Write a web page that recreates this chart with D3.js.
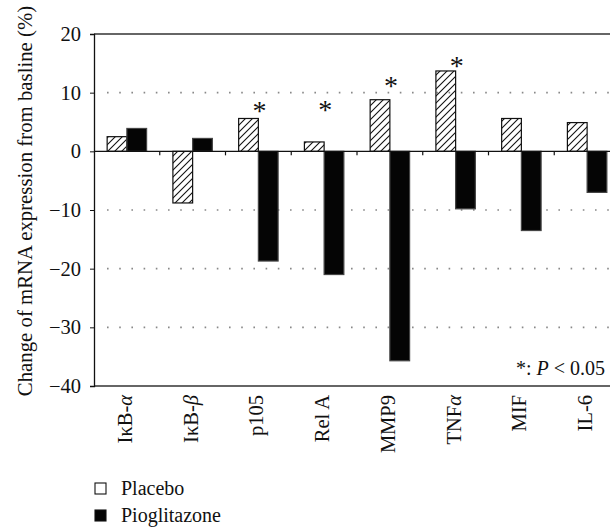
<!DOCTYPE html>
<html lang="en">
<head>
<meta charset="utf-8">
<title>mRNA expression change</title>
<script src="https://d3js.org/d3.v7.min.js"></script>
<style>
  body { margin: 0; background: #fff; }
  svg text { font-family: "Liberation Serif", "DejaVu Serif", serif; fill: #111; }
</style>
</head>
<body>
<script>
// data
var genes = ["IκB-α", "IκB-β", "p105", "Rel A", "MMP9", "TNFα", "MIF", "IL-6"];
var placebo = [2.5, -8.8, 5.6, 1.6, 8.8, 13.7, 5.6, 4.9];
var pioglitazone = [3.9, 2.2, -18.7, -21.0, -35.7, -9.8, -13.5, -7.0];
var significant = [false, false, true, true, true, true, false, false];
var starLevel = [0, 0, 7.9, 8.0, 12.2, 15.6, 0, 0];   // where the * sits (in %)
var yTicks = [20, 10, 0, -10, -20, -30, -40];
var groups = ["Placebo", "Pioglitazone"];

var W = 610, H = 527;
var plotL = 94, plotR = 620, plotT = 34, plotB = 386;
var FS = 20;

var svg = d3.select("body").append("svg")
    .attr("width", W).attr("height", H);

// hatch pattern for placebo bars
var defs = svg.append("defs");
defs.append("pattern")
    .attr("id", "hatch")
    .attr("patternUnits", "userSpaceOnUse")
    .attr("width", 7).attr("height", 7)
  .append("path")
    .attr("d", "M0,7 L7,0 M-1,1 L1,-1 M6,8 L8,6")
    .attr("stroke", "#111").attr("stroke-width", 1.1);

var x = d3.scaleBand().domain(genes).range([plotL, plotR])
    .paddingInner(0.4).paddingOuter(0.2);
var xIn = d3.scaleBand().domain(groups).range([0, x.bandwidth()]);
var y = d3.scaleLinear().domain([-40, 20]).range([plotB, plotT]);

// dotted gridlines
svg.append("g").selectAll("line")
    .data(yTicks.filter(function(d) { return d != 0 && d != 20 && d != -40; }))
    .enter().append("line")
    .attr("x1", plotL + 13).attr("x2", W)
    .attr("y1", function(d) { return y(d); })
    .attr("y2", function(d) { return y(d); })
    .attr("stroke", "#888").attr("stroke-width", 1.6)
    .attr("stroke-dasharray", "1.6,10.6");

// frame lines: top and bottom
svg.append("line").attr("x1", plotL).attr("x2", W)
    .attr("y1", y(20)).attr("y2", y(20))
    .attr("stroke", "#333").attr("stroke-width", 1.3);
svg.append("line").attr("x1", plotL).attr("x2", W)
    .attr("y1", y(-40)).attr("y2", y(-40))
    .attr("stroke", "#333").attr("stroke-width", 1.3);

// bars
var rows = genes.map(function(g, i) {
    return [{gene: g, group: "Placebo", v: placebo[i]},
            {gene: g, group: "Pioglitazone", v: pioglitazone[i]}];
});
var flat = [].concat.apply([], rows);

svg.append("g").selectAll("rect")
    .data(flat)
    .enter().append("rect")
    .attr("x", function(d) { return x(d.gene) + xIn(d.group); })
    .attr("width", xIn.bandwidth())
    .attr("y", function(d) { return y(Math.max(0, d.v)); })
    .attr("height", function(d) { return Math.abs(y(d.v) - y(0)); })
    .attr("fill", function(d) { return d.group == "Placebo" ? "url(#hatch)" : "#050505"; })
    .attr("stroke", function(d) { return d.group == "Placebo" ? "#111" : "#444"; })
    .attr("stroke-width", 1.2);

// zero line with small ticks between categories
svg.append("line").attr("x1", plotL).attr("x2", W)
    .attr("y1", y(0)).attr("y2", y(0))
    .attr("stroke", "#111").attr("stroke-width", 1.4);
svg.append("g").selectAll("line")
    .data(genes.slice(1))
    .enter().append("line")
    .attr("x1", function(d) { return x(d) - x.step() * x.paddingInner() / 2; })
    .attr("x2", function(d) { return x(d) - x.step() * x.paddingInner() / 2; })
    .attr("y1", y(0)).attr("y2", y(0) + 4)
    .attr("stroke", "#111").attr("stroke-width", 1.2);

// y axis
var yAxis = d3.axisLeft(y).tickValues(yTicks).tickSize(4).tickPadding(9)
    .tickFormat(function(d) { return d < 0 ? "\u2212" + Math.abs(d) : d; });
var gy = svg.append("g").attr("transform", "translate(" + plotL + ",0)").call(yAxis);
gy.attr("font-family", null).attr("font-size", null);
gy.select(".domain").attr("stroke", "#111").attr("stroke-width", 1.3);
gy.selectAll(".tick line").attr("stroke", "#111");
gy.selectAll("text").style("font-size", "20.5px").attr("fill", "#111");

svg.append("text")
    .attr("transform", "translate(32,201) rotate(-90)")
    .attr("text-anchor", "middle")
    .style("font-size", "20.8px")
    .text("Change of mRNA expression from basline (%)");

// category labels, Greek alpha/beta set in italic
var labs = svg.append("g").selectAll("text")
    .data(genes)
    .enter().append("text")
    .attr("transform", function(d) {
        return "translate(" + (x(d) + x.bandwidth() / 2 + 5) + "," + (plotB + 9) + ") rotate(-90)";
    })
    .attr("text-anchor", "end")
    .style("font-size", "20.5px");
labs.each(function(d) {
    var t = d3.select(this);
    d.split(/([αβ])/).forEach(function(part) {
        if (!part) return;
        var s = t.append("tspan").text(part);
        if (part == "α" || part == "β") s.style("font-style", "italic");
    });
});

// significance stars
svg.append("g").selectAll("text")
    .data(genes.filter(function(d, i) { return significant[i]; }))
    .enter().append("text")
    .attr("x", function(d) { return x(d) + x.bandwidth() / 2 + 1; })
    .attr("y", function(d) { return y(starLevel[genes.indexOf(d)]) + 15; })
    .attr("text-anchor", "middle")
    .style("font-size", "28px")
    .text("*");

// footnote
var note = svg.append("text")
    .attr("x", 605).attr("y", 375)
    .attr("text-anchor", "end")
    .style("font-size", FS + "px");
note.append("tspan").text("*: ");
note.append("tspan").style("font-style", "italic").text("P");
note.append("tspan").text(" < 0.05");

// legend
var leg = svg.append("g").selectAll("g")
    .data(groups)
    .enter().append("g")
    .attr("transform", function(d, i) { return "translate(95," + (483 + i * 27) + ")"; });
leg.append("rect")
    .attr("width", 11).attr("height", 11)
    .attr("fill", function(d) { return d == "Placebo" ? "#fff" : "#050505"; })
    .attr("stroke", "#111").attr("stroke-width", 1.1);
leg.append("text")
    .attr("x", 26).attr("y", 12)
    .style("font-size", FS + "px")
    .text(function(d) { return d; });
</script>
</body>
</html>
